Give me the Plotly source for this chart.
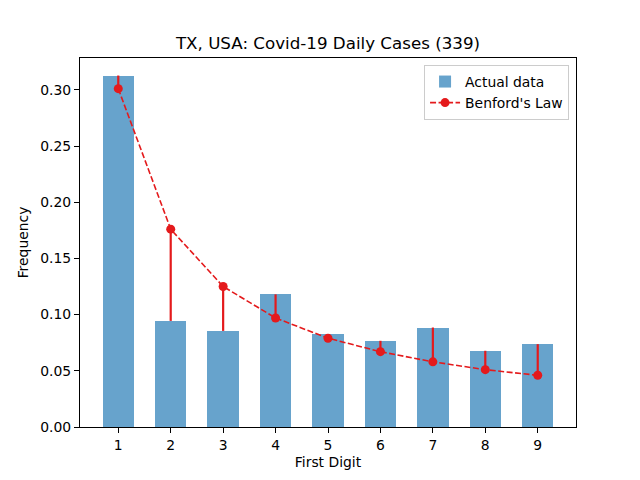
import plotly.graph_objects as go

digits = [1, 2, 3, 4, 5, 6, 7, 8, 9]
actual = [0.3127, 0.0944, 0.0855, 0.1180, 0.0826, 0.0767, 0.0885, 0.0678, 0.0737]
benford = [0.301, 0.176, 0.125, 0.097, 0.079, 0.067, 0.058, 0.051, 0.046]
y_ticks = [0.00, 0.05, 0.10, 0.15, 0.20, 0.25, 0.30]

err_plus = [max(a - b, 0) for a, b in zip(actual, benford)]
err_minus = [max(b - a, 0) for a, b in zip(actual, benford)]

red = "#e41a1c"
font = "DejaVu Sans"

fig = go.Figure()
fig.add_trace(go.Bar(
    x=digits, y=actual, width=0.6, name="Actual data",
    marker=dict(color="rgba(31,119,180,0.68)", line=dict(width=0)),
))
fig.add_trace(go.Scatter(
    x=digits, y=benford, mode="lines+markers", name="Benford's Law",
    line=dict(color=red, dash="6px,2.5px", width=1.6),
    marker=dict(color=red, size=9),
    error_y=dict(type="data", symmetric=False, array=err_plus,
                 arrayminus=err_minus, color=red, thickness=2.2, width=0),
))

# body has an 8px margin in the page, so shift the layout up/left by 8px
fig.update_layout(
    width=640, height=480,
    margin=dict(l=72, r=72, t=50, b=61),
    paper_bgcolor="white", plot_bgcolor="white",
    font=dict(family=font, size=13.9, color="black"),
    title=dict(text="TX, USA: Covid-19 Daily Cases (339)", x=0.5, xref="paper",
               xanchor="center", y=1 - 35 / 480, yref="container", yanchor="middle",
               font=dict(size=16.7)),
    showlegend=True,
    legend=dict(x=0.986, y=0.981, xanchor="right", yanchor="top",
                bordercolor="#cccccc", borderwidth=1, bgcolor="rgba(255,255,255,0.8)",
                font=dict(size=13.9), tracegroupgap=0, itemwidth=30),
    bargap=0,
)
fig.update_xaxes(
    range=[0.27, 9.73], tickmode="array", tickvals=digits,
    ticktext=[str(d) for d in digits],
    showline=True, linecolor="black", linewidth=1, mirror=True,
    ticks="outside", ticklen=5, tickcolor="black", showgrid=False, zeroline=False,
    title=dict(text="First Digit", font=dict(size=13.9), standoff=5),
)
fig.update_yaxes(
    range=[0, 0.3283], tickmode="array", tickvals=y_ticks,
    ticktext=[f"{v:.2f}" for v in y_ticks],
    showline=True, linecolor="black", linewidth=1, mirror=True,
    ticks="outside", ticklen=5, tickcolor="black", showgrid=False, zeroline=False,
    title=dict(text="Frequency", font=dict(size=13.9), standoff=8),
)

fig.write_html("out.html")
